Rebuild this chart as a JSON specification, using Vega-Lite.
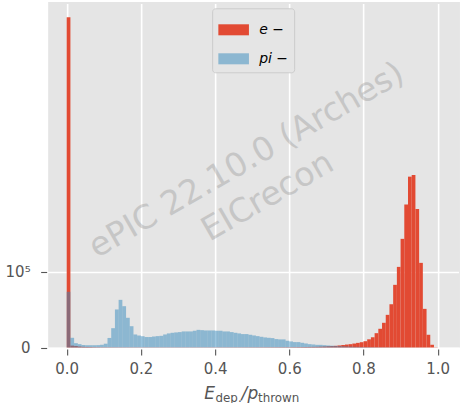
{
"$schema":"https://vega.github.io/schema/vega-lite/v6.json",
"width":411.8,"height":345.5,
"autosize":{"type":"none"},
"padding":{"left":48.15,"top":2,"right":0,"bottom":55.5},
"background":"white",
"config":{
"view":{"fill":"#E5E5E5","stroke":null},
"font":"DejaVu Sans",
"axis":{"domain":false,"grid":true,"gridColor":"white","gridWidth":1.6,"tickColor":"#555555","tickSize":6,"tickWidth":1.1,"labelColor":"#555555","labelFont":"DejaVu Sans","labelFontSize":15,"offset":1.5,"title":null}
},
"layer":[
{"data":{"values":[
{"p":"e","lo":0.00,"hi":0.01,"n":436000},{"p":"e","lo":0.01,"hi":0.02,"n":2500},{"p":"e","lo":0.02,"hi":0.03,"n":2000},{"p":"e","lo":0.03,"hi":0.04,"n":1300},{"p":"e","lo":0.04,"hi":0.05,"n":900},
{"p":"e","lo":0.05,"hi":0.06,"n":700},{"p":"e","lo":0.06,"hi":0.07,"n":600},{"p":"e","lo":0.07,"hi":0.08,"n":500},{"p":"e","lo":0.08,"hi":0.09,"n":450},{"p":"e","lo":0.09,"hi":0.10,"n":400},
{"p":"e","lo":0.10,"hi":0.11,"n":380},{"p":"e","lo":0.11,"hi":0.12,"n":360},{"p":"e","lo":0.12,"hi":0.13,"n":350},{"p":"e","lo":0.13,"hi":0.14,"n":340},{"p":"e","lo":0.14,"hi":0.15,"n":330},
{"p":"e","lo":0.15,"hi":0.16,"n":320},{"p":"e","lo":0.16,"hi":0.17,"n":320},{"p":"e","lo":0.17,"hi":0.18,"n":310},{"p":"e","lo":0.18,"hi":0.19,"n":310},{"p":"e","lo":0.19,"hi":0.20,"n":300},
{"p":"e","lo":0.20,"hi":0.21,"n":300},{"p":"e","lo":0.21,"hi":0.22,"n":300},{"p":"e","lo":0.22,"hi":0.23,"n":290},{"p":"e","lo":0.23,"hi":0.24,"n":290},{"p":"e","lo":0.24,"hi":0.25,"n":290},
{"p":"e","lo":0.25,"hi":0.26,"n":290},{"p":"e","lo":0.26,"hi":0.27,"n":280},{"p":"e","lo":0.27,"hi":0.28,"n":280},{"p":"e","lo":0.28,"hi":0.29,"n":280},{"p":"e","lo":0.29,"hi":0.30,"n":280},
{"p":"e","lo":0.30,"hi":0.31,"n":280},{"p":"e","lo":0.31,"hi":0.32,"n":280},{"p":"e","lo":0.32,"hi":0.33,"n":280},{"p":"e","lo":0.33,"hi":0.34,"n":280},{"p":"e","lo":0.34,"hi":0.35,"n":290},
{"p":"e","lo":0.35,"hi":0.36,"n":290},{"p":"e","lo":0.36,"hi":0.37,"n":290},{"p":"e","lo":0.37,"hi":0.38,"n":290},{"p":"e","lo":0.38,"hi":0.39,"n":300},{"p":"e","lo":0.39,"hi":0.40,"n":300},
{"p":"e","lo":0.40,"hi":0.41,"n":300},{"p":"e","lo":0.41,"hi":0.42,"n":310},{"p":"e","lo":0.42,"hi":0.43,"n":310},{"p":"e","lo":0.43,"hi":0.44,"n":320},{"p":"e","lo":0.44,"hi":0.45,"n":320},
{"p":"e","lo":0.45,"hi":0.46,"n":330},{"p":"e","lo":0.46,"hi":0.47,"n":330},{"p":"e","lo":0.47,"hi":0.48,"n":340},{"p":"e","lo":0.48,"hi":0.49,"n":350},{"p":"e","lo":0.49,"hi":0.50,"n":360},
{"p":"e","lo":0.50,"hi":0.51,"n":370},{"p":"e","lo":0.51,"hi":0.52,"n":380},{"p":"e","lo":0.52,"hi":0.53,"n":390},{"p":"e","lo":0.53,"hi":0.54,"n":400},{"p":"e","lo":0.54,"hi":0.55,"n":410},
{"p":"e","lo":0.55,"hi":0.56,"n":420},{"p":"e","lo":0.56,"hi":0.57,"n":430},{"p":"e","lo":0.57,"hi":0.58,"n":440},{"p":"e","lo":0.58,"hi":0.59,"n":450},{"p":"e","lo":0.59,"hi":0.60,"n":470},
{"p":"e","lo":0.60,"hi":0.61,"n":490},{"p":"e","lo":0.61,"hi":0.62,"n":520},{"p":"e","lo":0.62,"hi":0.63,"n":560},{"p":"e","lo":0.63,"hi":0.64,"n":610},{"p":"e","lo":0.64,"hi":0.65,"n":670},
{"p":"e","lo":0.65,"hi":0.66,"n":740},{"p":"e","lo":0.66,"hi":0.67,"n":830},{"p":"e","lo":0.67,"hi":0.68,"n":950},{"p":"e","lo":0.68,"hi":0.69,"n":1150},{"p":"e","lo":0.69,"hi":0.70,"n":1400},
{"p":"e","lo":0.70,"hi":0.71,"n":1650},{"p":"e","lo":0.71,"hi":0.72,"n":1900},{"p":"e","lo":0.72,"hi":0.73,"n":2200},{"p":"e","lo":0.73,"hi":0.74,"n":2700},{"p":"e","lo":0.74,"hi":0.75,"n":3300},
{"p":"e","lo":0.75,"hi":0.76,"n":3900},{"p":"e","lo":0.76,"hi":0.77,"n":4400},{"p":"e","lo":0.77,"hi":0.78,"n":5200},{"p":"e","lo":0.78,"hi":0.79,"n":6100},{"p":"e","lo":0.79,"hi":0.80,"n":7000},
{"p":"e","lo":0.80,"hi":0.81,"n":8300},{"p":"e","lo":0.81,"hi":0.82,"n":10800},{"p":"e","lo":0.82,"hi":0.83,"n":13500},{"p":"e","lo":0.83,"hi":0.84,"n":18900},{"p":"e","lo":0.84,"hi":0.85,"n":24700},
{"p":"e","lo":0.85,"hi":0.86,"n":32600},{"p":"e","lo":0.86,"hi":0.87,"n":43100},{"p":"e","lo":0.87,"hi":0.88,"n":57100},{"p":"e","lo":0.88,"hi":0.89,"n":82700},{"p":"e","lo":0.89,"hi":0.90,"n":106400},
{"p":"e","lo":0.90,"hi":0.91,"n":143400},{"p":"e","lo":0.91,"hi":0.92,"n":188600},{"p":"e","lo":0.92,"hi":0.93,"n":225500},{"p":"e","lo":0.93,"hi":0.94,"n":227800},{"p":"e","lo":0.94,"hi":0.95,"n":182900},
{"p":"e","lo":0.95,"hi":0.96,"n":111700},{"p":"e","lo":0.96,"hi":0.97,"n":51000},{"p":"e","lo":0.97,"hi":0.98,"n":16800},{"p":"e","lo":0.98,"hi":0.99,"n":3600},{"p":"e","lo":0.99,"hi":1.00,"n":300},
{"p":"pi","lo":0.00,"hi":0.01,"n":73500},{"p":"pi","lo":0.01,"hi":0.02,"n":12800},{"p":"pi","lo":0.02,"hi":0.03,"n":5700},{"p":"pi","lo":0.03,"hi":0.04,"n":4400},{"p":"pi","lo":0.04,"hi":0.05,"n":3300},
{"p":"pi","lo":0.05,"hi":0.06,"n":3000},{"p":"pi","lo":0.06,"hi":0.07,"n":3000},{"p":"pi","lo":0.07,"hi":0.08,"n":3000},{"p":"pi","lo":0.08,"hi":0.09,"n":3100},{"p":"pi","lo":0.09,"hi":0.10,"n":3600},
{"p":"pi","lo":0.10,"hi":0.11,"n":5000},{"p":"pi","lo":0.11,"hi":0.12,"n":12600},{"p":"pi","lo":0.12,"hi":0.13,"n":25500},{"p":"pi","lo":0.13,"hi":0.14,"n":50200},{"p":"pi","lo":0.14,"hi":0.15,"n":62900},
{"p":"pi","lo":0.15,"hi":0.16,"n":54500},{"p":"pi","lo":0.16,"hi":0.17,"n":39200},{"p":"pi","lo":0.17,"hi":0.18,"n":28100},{"p":"pi","lo":0.18,"hi":0.19,"n":17200},{"p":"pi","lo":0.19,"hi":0.20,"n":15800},
{"p":"pi","lo":0.20,"hi":0.21,"n":14900},{"p":"pi","lo":0.21,"hi":0.22,"n":13800},{"p":"pi","lo":0.22,"hi":0.23,"n":13800},{"p":"pi","lo":0.23,"hi":0.24,"n":14500},{"p":"pi","lo":0.24,"hi":0.25,"n":15000},
{"p":"pi","lo":0.25,"hi":0.26,"n":15400},{"p":"pi","lo":0.26,"hi":0.27,"n":17200},{"p":"pi","lo":0.27,"hi":0.28,"n":18600},{"p":"pi","lo":0.28,"hi":0.29,"n":19400},{"p":"pi","lo":0.29,"hi":0.30,"n":19900},
{"p":"pi","lo":0.30,"hi":0.31,"n":20300},{"p":"pi","lo":0.31,"hi":0.32,"n":21200},{"p":"pi","lo":0.32,"hi":0.33,"n":21200},{"p":"pi","lo":0.33,"hi":0.34,"n":21200},{"p":"pi","lo":0.34,"hi":0.35,"n":22100},
{"p":"pi","lo":0.35,"hi":0.36,"n":23300},{"p":"pi","lo":0.36,"hi":0.37,"n":22900},{"p":"pi","lo":0.37,"hi":0.38,"n":22500},{"p":"pi","lo":0.38,"hi":0.39,"n":22500},{"p":"pi","lo":0.39,"hi":0.40,"n":22500},
{"p":"pi","lo":0.40,"hi":0.41,"n":22100},{"p":"pi","lo":0.41,"hi":0.42,"n":22100},{"p":"pi","lo":0.42,"hi":0.43,"n":21200},{"p":"pi","lo":0.43,"hi":0.44,"n":21200},{"p":"pi","lo":0.44,"hi":0.45,"n":20300},
{"p":"pi","lo":0.45,"hi":0.46,"n":19400},{"p":"pi","lo":0.46,"hi":0.47,"n":18600},{"p":"pi","lo":0.47,"hi":0.48,"n":17700},{"p":"pi","lo":0.48,"hi":0.49,"n":17700},{"p":"pi","lo":0.49,"hi":0.50,"n":16800},
{"p":"pi","lo":0.50,"hi":0.51,"n":15900},{"p":"pi","lo":0.51,"hi":0.52,"n":15000},{"p":"pi","lo":0.52,"hi":0.53,"n":14100},{"p":"pi","lo":0.53,"hi":0.54,"n":13300},{"p":"pi","lo":0.54,"hi":0.55,"n":12800},
{"p":"pi","lo":0.55,"hi":0.56,"n":12400},{"p":"pi","lo":0.56,"hi":0.57,"n":11100},{"p":"pi","lo":0.57,"hi":0.58,"n":10700},{"p":"pi","lo":0.58,"hi":0.59,"n":10700},{"p":"pi","lo":0.59,"hi":0.60,"n":8900},
{"p":"pi","lo":0.60,"hi":0.61,"n":8000},{"p":"pi","lo":0.61,"hi":0.62,"n":7100},{"p":"pi","lo":0.62,"hi":0.63,"n":7100},{"p":"pi","lo":0.63,"hi":0.64,"n":6200},{"p":"pi","lo":0.64,"hi":0.65,"n":5300},
{"p":"pi","lo":0.65,"hi":0.66,"n":4400},{"p":"pi","lo":0.66,"hi":0.67,"n":4000},{"p":"pi","lo":0.67,"hi":0.68,"n":3500},{"p":"pi","lo":0.68,"hi":0.69,"n":3500},{"p":"pi","lo":0.69,"hi":0.70,"n":3100},
{"p":"pi","lo":0.70,"hi":0.71,"n":2700},{"p":"pi","lo":0.71,"hi":0.72,"n":2400},{"p":"pi","lo":0.72,"hi":0.73,"n":2100},{"p":"pi","lo":0.73,"hi":0.74,"n":1800},{"p":"pi","lo":0.74,"hi":0.75,"n":1600},
{"p":"pi","lo":0.75,"hi":0.76,"n":1400},{"p":"pi","lo":0.76,"hi":0.77,"n":1200},{"p":"pi","lo":0.77,"hi":0.78,"n":1000},{"p":"pi","lo":0.78,"hi":0.79,"n":850},{"p":"pi","lo":0.79,"hi":0.80,"n":700},
{"p":"pi","lo":0.80,"hi":0.81,"n":600},{"p":"pi","lo":0.81,"hi":0.82,"n":500},{"p":"pi","lo":0.82,"hi":0.83,"n":420},{"p":"pi","lo":0.83,"hi":0.84,"n":360},{"p":"pi","lo":0.84,"hi":0.85,"n":300},
{"p":"pi","lo":0.85,"hi":0.86,"n":260},{"p":"pi","lo":0.86,"hi":0.87,"n":220},{"p":"pi","lo":0.87,"hi":0.88,"n":190},{"p":"pi","lo":0.88,"hi":0.89,"n":160},{"p":"pi","lo":0.89,"hi":0.90,"n":140},
{"p":"pi","lo":0.90,"hi":0.91,"n":120},{"p":"pi","lo":0.91,"hi":0.92,"n":100},{"p":"pi","lo":0.92,"hi":0.93,"n":90},{"p":"pi","lo":0.93,"hi":0.94,"n":80},{"p":"pi","lo":0.94,"hi":0.95,"n":70},
{"p":"pi","lo":0.95,"hi":0.96,"n":60},{"p":"pi","lo":0.96,"hi":0.97,"n":50},{"p":"pi","lo":0.97,"hi":0.98,"n":40},{"p":"pi","lo":0.98,"hi":0.99,"n":30},{"p":"pi","lo":0.99,"hi":1.00,"n":20}
]},
"mark":{"type":"rect"},
"encoding":{
"x":{"field":"lo","type":"quantitative","scale":{"domain":[-0.05,1.06],"nice":false,"zero":false},"axis":{"values":[0,0.2,0.4,0.6,0.8,1.0],"format":".1f","labelPadding":7}},
"x2":{"field":"hi"},
"y":{"field":"n","type":"quantitative","scale":{"domain":[0,456000],"nice":false},"axis":{"values":[0,100000],"labelExpr":"datum.value == 0 ? '0' : '10⁵'","labelPadding":10.5}},
"y2":{"datum":0},
"color":{"field":"p","type":"nominal","scale":{"domain":["e","pi"],"range":["#E24A33","rgba(52,138,189,0.5)"]},
"legend":{"orient":"none","legendX":164,"legendY":6.3,"title":null,"symbolType":"M-1,-0.36H1V0.36H-1Z","symbolSize":936,"symbolStrokeWidth":0,"labelFont":"DejaVu Sans","labelFontStyle":"italic","labelFontSize":14,"labelColor":"black","labelOffset":10,"padding":6,"rowPadding":6,"fillColor":"#E5E5E5","strokeColor":"#CCCCCC","cornerRadius":3,"labelExpr":"datum.label + ' −'"}}
}},
{"data":{"values":[{}]},
"mark":{"type":"text","text":["ePIC 22.10.0 (Arches)","EICrecon"],"angle":330,"fontSize":33,"lineHeight":42,"align":"center","baseline":"middle","color":"#808080","opacity":0.3,"font":"DejaVu Sans"},
"encoding":{"x":{"datum":0.485},"y":{"datum":247000}}},
{"data":{"values":[{}]},
"mark":{"type":"text","text":"E","fontSize":17,"fontStyle":"italic","align":"left","baseline":"alphabetic","color":"#555555","font":"DejaVu Sans"},
"encoding":{"x":{"datum":0.3709},"y":{"datum":-67900}}},
{"data":{"values":[{}]},
"mark":{"type":"text","text":"dep.","fontSize":11.9,"align":"left","baseline":"alphabetic","dy":3.5,"color":"#555555","font":"DejaVu Sans"},
"encoding":{"x":{"datum":0.4011},"y":{"datum":-67900}}},
{"data":{"values":[{}]},
"mark":{"type":"text","text":"/","fontSize":17,"fontStyle":"italic","align":"left","baseline":"alphabetic","color":"#555555","font":"DejaVu Sans"},
"encoding":{"x":{"datum":0.4712},"y":{"datum":-67900}}},
{"data":{"values":[{}]},
"mark":{"type":"text","text":"p","fontSize":17,"fontStyle":"italic","align":"left","baseline":"alphabetic","color":"#555555","font":"DejaVu Sans"},
"encoding":{"x":{"datum":0.4873},"y":{"datum":-67900}}},
{"data":{"values":[{}]},
"mark":{"type":"text","text":"thrown","fontSize":11.9,"align":"left","baseline":"alphabetic","dy":3.5,"color":"#555555","font":"DejaVu Sans"},
"encoding":{"x":{"datum":0.5157},"y":{"datum":-67900}}}
]
}
